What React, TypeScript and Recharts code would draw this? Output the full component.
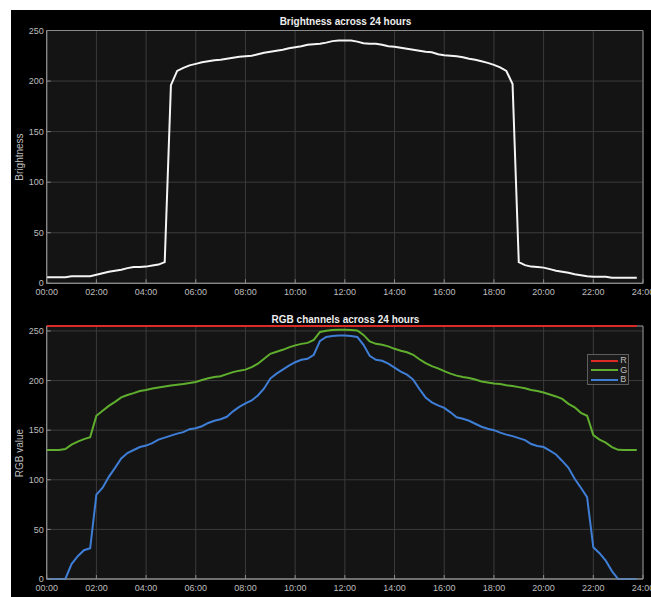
import React from 'react';
import { LineChart, Line, XAxis, YAxis, CartesianGrid, ReferenceArea, Legend } from 'recharts';

const times = [
  "00:00","00:15","00:30","00:45","01:00","01:15","01:30","01:45",
  "02:00","02:15","02:30","02:45","03:00","03:15","03:30","03:45",
  "04:00","04:15","04:30","04:45","05:00","05:15","05:30","05:45",
  "06:00","06:15","06:30","06:45","07:00","07:15","07:30","07:45",
  "08:00","08:15","08:30","08:45","09:00","09:15","09:30","09:45",
  "10:00","10:15","10:30","10:45","11:00","11:15","11:30","11:45",
  "12:00","12:15","12:30","12:45","13:00","13:15","13:30","13:45",
  "14:00","14:15","14:30","14:45","15:00","15:15","15:30","15:45",
  "16:00","16:15","16:30","16:45","17:00","17:15","17:30","17:45",
  "18:00","18:15","18:30","18:45","19:00","19:15","19:30","19:45",
  "20:00","20:15","20:30","20:45","21:00","21:15","21:30","21:45",
  "22:00","22:15","22:30","22:45","23:00","23:15","23:30","23:45",
];

const brightness = [
  6, 6, 6, 6, 7, 7, 7, 7,
  8.5, 10, 11.5, 12.5, 13.5, 15, 16, 16,
  16.5, 17.5, 18.5, 21, 196, 210, 213, 215.5,
  217, 218.5, 219.5, 220.5, 221, 222, 223, 224,
  224.5, 225, 226.5, 228, 229, 230, 231, 232.5,
  233.5, 234.5, 236, 236.5, 237, 238, 239.5, 240,
  240, 240, 239, 237.5, 237, 237, 236, 234.5,
  234, 233, 232, 231, 230, 229, 228.5, 226.5,
  225.5, 225, 224.5, 223.5, 222, 221, 219.5, 218,
  216, 213.5, 210, 197, 21, 18, 16.5, 16,
  15.5, 14, 12.5, 11.5, 10.5, 9, 8, 7,
  6.5, 6.5, 6.5, 5.5, 5.5, 5.5, 5.5, 5.5,
];

const redChannel = [
  255, 255, 255, 255, 255, 255, 255, 255,
  255, 255, 255, 255, 255, 255, 255, 255,
  255, 255, 255, 255, 255, 255, 255, 255,
  255, 255, 255, 255, 255, 255, 255, 255,
  255, 255, 255, 255, 255, 255, 255, 255,
  255, 255, 255, 255, 255, 255, 255, 255,
  255, 255, 255, 255, 255, 255, 255, 255,
  255, 255, 255, 255, 255, 255, 255, 255,
  255, 255, 255, 255, 255, 255, 255, 255,
  255, 255, 255, 255, 255, 255, 255, 255,
  255, 255, 255, 255, 255, 255, 255, 255,
  255, 255, 255, 255, 255, 255, 255, 255,
];

const greenChannel = [
  130, 130, 130, 131, 135.5, 138.5, 141, 143,
  164.5, 169.5, 174.5, 178.5, 183, 185.5, 187.3, 189.5,
  190.5, 192, 193, 194, 195, 195.8, 196.5, 197.5,
  198.5, 200.5, 202.3, 203.5, 204.3, 206.5, 208.5, 210,
  211, 213.5, 217, 222, 227, 229, 231, 233.5,
  235.5, 237, 238, 241, 249, 250.3, 251, 251.3,
  251.3, 251, 250.5, 246, 239.5, 237, 236, 234.5,
  232, 230, 228.5, 226, 221.5, 217.5, 214.5, 212.3,
  209.5, 207, 205, 203.5, 202.5, 201, 199, 198,
  197, 196.5, 195.2, 194.5, 193.4, 192.2, 190.5, 189.5,
  188, 186, 184, 181.5, 176.5, 173, 167.5, 164.5,
  145, 140.5, 137.5, 133, 130.2, 130, 130, 130,
];

const blueChannel = [
  0, 0, 0, 0, 15, 23, 29, 31,
  85, 92, 103, 112, 121.5, 127, 130, 133,
  134.5, 137, 140.5, 142.5, 144.5, 146.5, 148, 151,
  152, 154, 157.3, 159.5, 161, 163.5, 169, 173.5,
  177, 180, 185, 192, 202, 207, 211, 215,
  218.5, 221, 222, 226, 240, 244, 245, 245.3,
  245.3, 245, 244, 236, 225, 221, 220, 217,
  213, 209, 206, 201, 191.5, 183, 178, 175,
  172.5, 168, 163, 161.5, 159.5, 156.5, 153.5, 151.5,
  150, 147.5, 145.5, 144, 142, 140, 136, 134,
  133, 129.3, 125.5, 119, 112, 101, 92, 82.5,
  32, 26, 18.5, 8, 0, 0, 0, 0,
];

const seriesNames = ['R', 'G', 'B'];
const xTicks = [0, 2, 4, 6, 8, 10, 12, 14, 16, 18, 20, 22, 24];
const xTickLabels = ["00:00","02:00","04:00","06:00","08:00","10:00","12:00","14:00","16:00","18:00","20:00","22:00","24:00"];
const yTicks = [0, 50, 100, 150, 200, 250];

const toHours = (s: string) => {
  const [h, m] = s.split(':').map(Number);
  return h + m / 60;
};

const topData = times.map((s, i) => ({ h: toHours(s), v: brightness[i] }));
const rgbData = times.map((s, i) => ({ h: toHours(s), R: redChannel[i], G: greenChannel[i], B: blueChannel[i] }));

const FONT = '"Liberation Sans", Arial, Helvetica, sans-serif';
const AX_BG = '#141414';
const GRID = '#3b3b3b';
const FRAME = '#8a8a8a';
const TXT = '#bdbdbd';
const TITLE = '#eeeeee';

const fmtX = (v: number) => {
  const i = xTicks.indexOf(v);
  return i >= 0 ? xTickLabels[i] : '';
};

const tickStyle = { fill: TXT, fontSize: 9, fontFamily: FONT };

const LegendBox = (props: any) => {
  const payload = [...(props.payload || [])].sort(
    (a: any, b: any) => seriesNames.indexOf(a.value) - seriesNames.indexOf(b.value)
  );
  return (
    <div style={{ width: 40, height: 28, paddingTop: 1, background: '#1b1b1b', border: '1px solid #5e5e5e', fontFamily: FONT }}>
      {payload.map((p: any) => (
        <div key={p.value} style={{ display: 'flex', alignItems: 'center', height: 9.3 }}>
          <span style={{ display: 'inline-block', width: 27, height: 2, background: p.color, marginLeft: 2.5 }} />
          <span style={{ marginLeft: 2.5, fontSize: 9, lineHeight: '9px', color: TXT }}>{p.value}</span>
        </div>
      ))}
    </div>
  );
};

const textAbs = (text: string, cx: number, cy: number, opts: any = {}) => (
  <div
    style={{
      position: 'absolute',
      left: cx - 150,
      top: cy - 6,
      width: 300,
      height: 12,
      lineHeight: '12px',
      textAlign: 'center',
      fontFamily: FONT,
      fontSize: opts.size || 10,
      color: opts.color || TXT,
      fontWeight: opts.bold ? 'bold' : 'normal',
      transform: opts.rotate ? 'rotate(-90deg)' : undefined,
      whiteSpace: 'nowrap',
    }}
  >
    {text}
  </div>
);

export default function App() {
  return (
    <div style={{ position: 'absolute', left: 0, top: 0, width: 651, height: 597, background: '#ffffff', overflow: 'hidden' }}>
      <div style={{ position: 'absolute', left: 11, top: 10, width: 640, height: 587, background: '#000000' }} />

      <div style={{ position: 'absolute', left: 0, top: 0 }}>
        <LineChart width={651} height={300} data={topData} margin={{ top: 30.5, right: 8, bottom: 2.7, left: 10 }}>
          <CartesianGrid stroke={GRID} fill={AX_BG} fillOpacity={1} />
          <XAxis
            dataKey="h"
            type="number"
            domain={[0, 24]}
            ticks={xTicks}
            interval={0}
            tickFormatter={fmtX}
            height={14}
            tick={tickStyle}
            tickSize={-4}
            tickMargin={9.5}
            tickLine={{ stroke: FRAME }}
            axisLine={{ stroke: FRAME }}
          />
          <YAxis
            type="number"
            domain={[0, 250]}
            ticks={yTicks}
            interval={0}
            width={36.7}
            tick={tickStyle}
            tickSize={-4}
            tickMargin={7}
            tickLine={{ stroke: FRAME }}
            axisLine={{ stroke: FRAME }}
          />
          <ReferenceArea x1={0} x2={24} y1={0} y2={250} fill="none" stroke={FRAME} strokeWidth={1} ifOverflow="visible" />
          <Line type="linear" dataKey="v" stroke="#f4f4f4" strokeWidth={2} dot={false} isAnimationActive={false} />
        </LineChart>
      </div>

      <div style={{ position: 'absolute', left: 0, top: 300 }}>
        <LineChart width={651} height={297} data={rgbData} margin={{ top: 26, right: 8, bottom: 2, left: 10 }}>
          <CartesianGrid stroke={GRID} fill={AX_BG} fillOpacity={1} />
          <XAxis
            dataKey="h"
            type="number"
            domain={[0, 24]}
            ticks={xTicks}
            interval={0}
            tickFormatter={fmtX}
            height={16}
            tick={tickStyle}
            tickSize={-4}
            tickMargin={9.2}
            tickLine={{ stroke: FRAME }}
            axisLine={{ stroke: FRAME }}
          />
          <YAxis
            type="number"
            domain={[0, 255]}
            ticks={yTicks}
            interval={0}
            width={36.7}
            tick={tickStyle}
            tickSize={-4}
            tickMargin={7}
            tickLine={{ stroke: FRAME }}
            axisLine={{ stroke: FRAME }}
          />
          <ReferenceArea x1={0} x2={24} y1={0} y2={255} fill="none" stroke={FRAME} strokeWidth={1} ifOverflow="visible" />
          <Line type="linear" dataKey="R" name="R" stroke="#dc2b26" strokeWidth={2} dot={false} isAnimationActive={false} />
          <Line type="linear" dataKey="G" name="G" stroke="#5fae2e" strokeWidth={2} dot={false} isAnimationActive={false} />
          <Line type="linear" dataKey="B" name="B" stroke="#3f7ed6" strokeWidth={2} dot={false} isAnimationActive={false} />
          <Legend
            layout="vertical"
            align="center"
            verticalAlign="middle"
            itemSorter={null as any}
            content={<LegendBox />}
            wrapperStyle={{ left: 587.3, top: 54.3, width: 42, height: 31, bottom: 'auto', right: 'auto' }}
          />
        </LineChart>
      </div>

      {textAbs('Brightness across 24 hours', 345.5, 22, { bold: true, color: TITLE })}
      {textAbs('RGB channels across 24 hours', 345.5, 319.5, { bold: true, color: TITLE })}
      {textAbs('Brightness', 20.3, 157, { rotate: true })}
      {textAbs('RGB value', 20.3, 452.5, { rotate: true })}
    </div>
  );
}
